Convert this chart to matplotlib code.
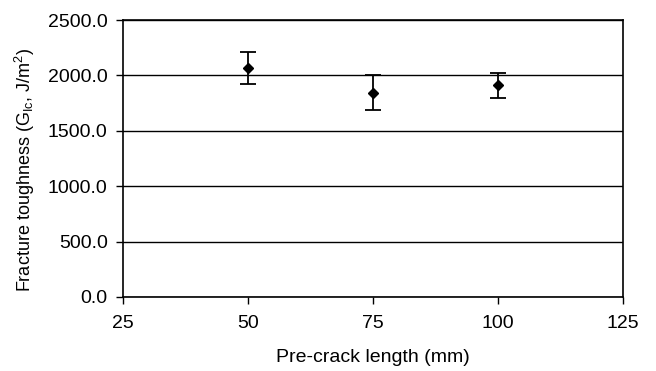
import numpy as np
import matplotlib
matplotlib.use("Agg")
import matplotlib.pyplot as plt

# pre-crack length (mm) vs fracture toughness
crack_len = [50, 75, 100]
g_ic = [2065, 1845, 1910]
g_err = [145, 155, 115]

yticks = [0, 500, 1000, 1500, 2000, 2500]
xticks = [25, 50, 75, 100, 125]

plt.rcParams['font.family'] = ['Liberation Sans', 'DejaVu Sans']
plt.rcParams['mathtext.default'] = 'regular'

fig = plt.figure(figsize=(6.56, 3.71), dpi=100)
ax = fig.add_axes([0.1875, 0.1995, 0.762, 0.7465])

for y in yticks:
    ax.axhline(y, color='black', lw=1.0, zorder=1)

ax.errorbar(crack_len, g_ic, yerr=g_err, fmt='D', color='black', ms=5,
            ecolor='black', elinewidth=1.3, capsize=6, capthick=1.3, zorder=3)

ax.set_xlim(25, 125)
ax.set_ylim(0, 2500)
ax.set_xticks(xticks)
ax.set_yticks(yticks)
ax.set_yticklabels(['%.1f' % v for v in yticks])
ax.tick_params(direction='out', length=5, width=1, labelsize=14)
ax.tick_params(axis='x', pad=8)
ax.tick_params(axis='y', pad=6)

for s in ax.spines.values():
    s.set_linewidth(1.2)
    s.set_color('black')

ax.set_xlabel('Pre-crack length (mm)', fontsize=14, labelpad=12)
ax.set_ylabel('Fracture toughness (G$_{Ic}$, J/m$^2$)', fontsize=13)
ax.yaxis.set_label_coords(-0.172, 0.46)

fig.savefig('out.png', dpi=100)
